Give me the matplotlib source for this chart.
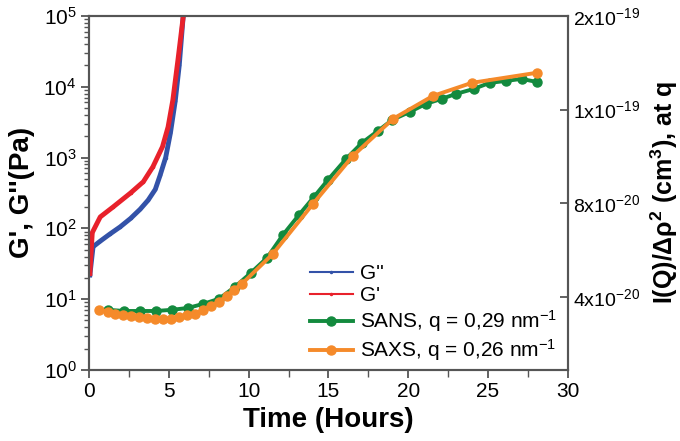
import matplotlib
matplotlib.use("Agg")
import matplotlib.pyplot as plt
from matplotlib.ticker import LogLocator, MultipleLocator, NullFormatter

plt.rcParams['font.family'] = ['Liberation Sans', 'DejaVu Sans']
plt.rcParams['mathtext.fontset'] = 'custom'
plt.rcParams['mathtext.rm'] = 'Liberation Sans'
plt.rcParams['mathtext.it'] = 'Liberation Sans:italic'
plt.rcParams['mathtext.bf'] = 'Liberation Sans:bold'

# rheology, left log axis (Pa)
t_g2 = [0.05, 0.25, 0.7, 1.3, 1.95, 2.6, 3.2, 3.7, 4.15, 4.45, 4.8, 5.1, 5.4, 5.65, 5.9]
g2 = [22, 55, 66, 83, 105, 138, 186, 250, 355, 560, 1000, 2240, 6300, 20000, 100000]
t_g1 = [0.05, 0.2, 0.7, 1.5, 2.6, 3.4, 4.0, 4.6, 4.95, 5.25, 5.57, 5.9]
g1 = [23, 87, 145, 200, 316, 455, 740, 1420, 2700, 6500, 24000, 98000]

# scattering, right axis (axis units, ticks relabelled as in the original)
t_sans = [1.19, 2.19, 3.19, 4.2, 5.2, 6.2, 7.14, 8.14, 9.14, 10.14, 11.15, 12.15, 13.15,
          14.09, 14.97, 16.1, 17.1, 18.1, 19.0, 20.1, 21.1, 22.1, 23.0, 24.1, 25.1, 26.1,
          27.1, 28.05]
i_sans = [3.45, 3.4, 3.4, 3.4, 3.45, 3.53, 3.7, 3.92, 4.43, 5.03, 5.67, 6.65, 7.5,
          8.27, 9.0, 9.89, 10.58, 11.09, 11.56, 11.9, 12.24, 12.46, 12.67, 12.88, 13.14,
          13.22, 13.31, 13.18]
t_saxs = [0.63, 1.19, 1.63, 2.13, 2.63, 3.13, 3.63, 4.13, 4.63, 5.13, 5.64, 6.14, 6.64,
          7.14, 7.64, 8.14, 8.64, 9.08, 9.58, 11.52, 14.03, 16.53, 19.04, 21.54, 23.98, 28.05]
i_saxs = [3.45, 3.36, 3.28, 3.23, 3.19, 3.15, 3.1, 3.06, 3.06, 3.06, 3.15, 3.23, 3.28,
          3.45, 3.62, 3.79, 4.05, 4.3, 4.56, 5.84, 7.97, 10.02, 11.6, 12.58, 13.14, 13.57]

r_ticks = [4, 8, 12, 16]
r_labels = ['4x10$^{-20}$', '8x10$^{-20}$', '1x10$^{-19}$', '2x10$^{-19}$']

blue = '#3352a8'
red = '#e8212b'
green = '#138a3e'
orange = '#f58a2a'
spine = '#555555'

fig = plt.figure(figsize=(6.8, 4.41), dpi=100)
ax = fig.add_axes([0.131, 0.161, 0.704, 0.803])
ax2 = ax.twinx()

l1, = ax.plot(t_g2, g2, color=blue, lw=3.5, marker='.', ms=3, label="G''")
l2, = ax.plot(t_g1, g1, color=red, lw=3.5, marker='.', ms=3, label="G'")
l3, = ax2.plot(t_sans, i_sans, color=green, lw=2.8, marker='o', ms=6.5,
               label='SANS, q = 0,29 nm$^{-1}$')
l4, = ax2.plot(t_saxs, i_saxs, color=orange, lw=2.8, marker='o', ms=6.5,
               label='SAXS, q = 0,26 nm$^{-1}$')

ax.set_yscale('log')
ax.set_ylim(1, 1e5)
ax.set_xlim(0, 30)
ax.xaxis.set_major_locator(MultipleLocator(5))
ax.xaxis.set_minor_locator(MultipleLocator(2.5))
ax.yaxis.set_major_locator(LogLocator(base=10, numticks=10))
ax.yaxis.set_minor_locator(LogLocator(base=10, subs=range(2, 10), numticks=10))
ax.yaxis.set_minor_formatter(NullFormatter())

ax2.set_ylim(0.88, 16)
ax2.set_yticks(r_ticks)
ax2.set_yticklabels(r_labels)

for a in (ax, ax2):
    for s in a.spines.values():
        s.set_color(spine)
        s.set_linewidth(1.5)

ax.tick_params(axis='both', which='major', labelsize=15, length=6, width=1.3,
               color=spine, direction='out', pad=3)
ax.tick_params(axis='both', which='minor', length=3.5, width=1, color=spine,
               direction='out')
ax.tick_params(axis='x', which='minor', length=5)
ax2.tick_params(axis='y', which='major', labelsize=14, length=6, width=1.3,
                color=spine, direction='in', pad=4)

ax.set_xlabel('Time (Hours)', fontsize=20, fontweight='bold', labelpad=4)
ax.set_ylabel("G', G''(Pa)", fontsize=20, fontweight='bold', labelpad=6)
ax2.set_ylabel(r'I(Q)/Δρ$^\mathbf{2}$ (cm$^\mathbf{3}$), at q', fontsize=18,
               fontweight='bold', labelpad=6)

leg = ax2.legend(handles=[l1, l2, l3, l4], loc='upper left', bbox_to_anchor=(0.43, 0.34),
                 frameon=False, fontsize=15, handlelength=2.1, handletextpad=0.3,
                 labelspacing=0.15, borderpad=0.2)
# thin lines for the rheology entries, as in the original legend
for h in leg.get_lines()[:2]:
    h.set_linewidth(1.5)

fig.savefig('out.png', dpi=100)
